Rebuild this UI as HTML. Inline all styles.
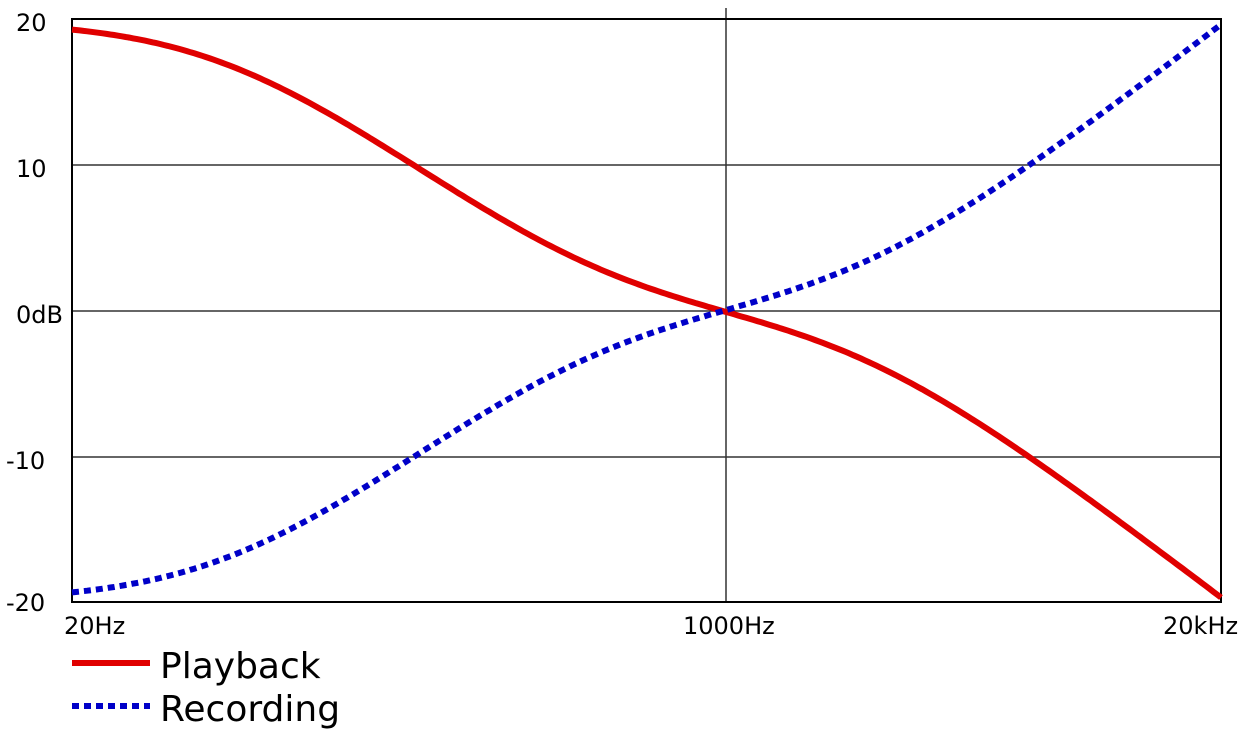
<!DOCTYPE html>
<html><head><meta charset="utf-8"><style>
body{margin:0;background:#fff;}
svg{display:block;font-family:"DejaVu Sans","Liberation Sans",sans-serif;}
</style></head><body>
<svg id="s" width="1260" height="735" viewBox="0 0 1260 735">
<g stroke="#333" stroke-width="1.5">
<line x1="72" y1="165" x2="1221" y2="165"/>
<line x1="72" y1="311" x2="1221" y2="311"/>
<line x1="72" y1="457" x2="1221" y2="457"/>
<line x1="726" y1="8" x2="726" y2="602"/>
</g>
<rect x="72" y="19" width="1149" height="583" fill="none" stroke="#000" stroke-width="2"/>
<g font-size="24" fill="#000">
<text x="16" y="31">20</text>
<text x="16" y="177">10</text>
<text x="16" y="323">0dB</text>
<text x="6" y="469">-10</text>
<text x="6" y="611">-20</text>
<text x="64" y="634">20Hz</text>
<text x="683" y="634">1000Hz</text>
<text x="1163" y="634">20kHz</text>
</g>
<path id="pb" fill="none" stroke="#e00000" stroke-width="6"/>
<path id="rc" fill="none" stroke="#0000c8" stroke-width="6" stroke-dasharray="7,5"/>
<line x1="72" y1="663" x2="150" y2="663" stroke="#e00000" stroke-width="6"/>
<line x1="72" y1="706" x2="150" y2="706" stroke="#0000c8" stroke-width="6" stroke-dasharray="7,5"/>
<g font-size="36" fill="#000">
<text x="160" y="678">Playback</text>
<text x="160" y="721">Recording</text>
</g>
</svg>
<script>
function g(f){var w=2*Math.PI*f;function m(t){return Math.sqrt(1+w*w*t*t);}
return 20*Math.log10(m(318e-6)/(m(3180e-6)*m(75e-6)));}
var r=g(1000),a="",b="";
for(var i=0;i<=300;i++){var lf=Math.log10(20)+3*i/300,f=Math.pow(10,lf);
var x=72+1149*i/300,d=g(f)-r;var y1=311-d*14.6,y2=311+d*14.6;
a+=(i?"L":"M")+x.toFixed(1)+","+y1.toFixed(1);b+=(i?"L":"M")+x.toFixed(1)+","+y2.toFixed(1);}
document.getElementById("pb").setAttribute("d",a);
document.getElementById("rc").setAttribute("d",b);
</script>
</body></html>
